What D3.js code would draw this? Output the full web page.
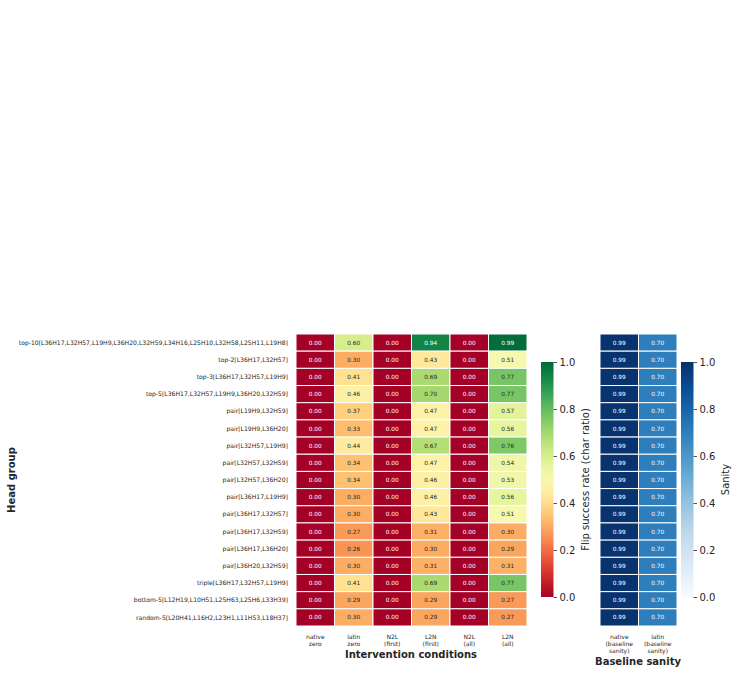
<!DOCTYPE html>
<html>
<head>
<meta charset="utf-8">
<script src="https://cdn.jsdelivr.net/npm/d3@7"></script>
<style>
  body { margin: 0; background: #fff; }
  svg { font-family: "DejaVu Sans", sans-serif; }
</style>
</head>
<body>
<svg id="chart" width="737" height="673"></svg>
<script>

// row labels (head groups)
var groups = [
    'top-10[L36H17,L32H57,L19H9,L36H20,L32H59,L34H16,L25H10,L32H58,L25H11,L19H8]',
    'top-2[L36H17,L32H57]',
    'top-3[L36H17,L32H57,L19H9]',
    'top-5[L36H17,L32H57,L19H9,L36H20,L32H59]',
    'pair[L19H9,L32H59]',
    'pair[L19H9,L36H20]',
    'pair[L32H57,L19H9]',
    'pair[L32H57,L32H59]',
    'pair[L32H57,L36H20]',
    'pair[L36H17,L19H9]',
    'pair[L36H17,L32H57]',
    'pair[L36H17,L32H59]',
    'pair[L36H17,L36H20]',
    'pair[L36H20,L32H59]',
    'triple[L36H17,L32H57,L19H9]',
    'bottom-5[L12H19,L10H51,L25H63,L25H6,L33H39]',
    'random-5[L20H41,L16H2,L23H1,L11H53,L18H37]'
];

var conditions = [ ['native', 'zero'], ['latin', 'zero'], ['N2L', '(first)'], ['L2N', '(first)'], ['N2L', '(all)'], ['L2N', '(all)'] ];

var sanity_cols = [ ['native', '(baseline', 'sanity)'], ['latin', '(baseline', 'sanity)'] ];

// one array per condition column
var native_zero = [0,0,0,0,0,0,0,0,0,0,0,0,0,0,0,0,0];
var latin_zero  = [0.60,0.30,0.41,0.46,0.37,0.33,0.44,0.34,0.34,0.30,0.30,0.27,0.26,0.30,0.41,0.29,0.30];
var n2l_first   = [0,0,0,0,0,0,0,0,0,0,0,0,0,0,0,0,0];
var l2n_first   = [0.94,0.43,0.69,0.70,0.47,0.47,0.67,0.47,0.46,0.46,0.43,0.31,0.30,0.31,0.69,0.29,0.29];
var n2l_all     = [0,0,0,0,0,0,0,0,0,0,0,0,0,0,0,0,0];
var l2n_all     = [0.99,0.51,0.77,0.77,0.57,0.56,0.76,0.54,0.53,0.56,0.51,0.30,0.29,0.31,0.77,0.27,0.27];

var native_sanity = [0.99,0.99,0.99,0.99,0.99,0.99,0.99,0.99,0.99,0.99,0.99,0.99,0.99,0.99,0.99,0.99,0.99];
var latin_sanity  = [0.70,0.70,0.70,0.70,0.70,0.70,0.70,0.70,0.70,0.70,0.70,0.70,0.70,0.70,0.70,0.70,0.70];

var cbar_ticks = [0, 0.2, 0.4, 0.6, 0.8, 1.0];

var flip_cols = [native_zero, latin_zero, n2l_first, l2n_first, n2l_all, l2n_all];
var sanity_vals = [native_sanity, latin_sanity];

var svg = d3.select('#chart');
var ink = '#262626';

var top_y = 334, bottom_y = 626;

var y = d3.scaleBand().domain(d3.range(groups.length)).range([top_y, bottom_y]);
var x1 = d3.scaleBand().domain(d3.range(conditions.length)).range([296, 527]);
var x2 = d3.scaleBand().domain(d3.range(sanity_cols.length)).range([600, 677]);

var flipColor = d3.scaleSequential(d3.interpolateRdYlGn).domain([0, 1]);
var sanityColor = d3.scaleSequential(d3.interpolateBlues).domain([0, 1]);

function textColor(c) {
    // same rule seaborn uses for annotation colour
    var rgb = d3.rgb(c);
    var lin = [rgb.r, rgb.g, rgb.b].map(function(v) {
        v = v / 255;
        return v <= 0.03928 ? v / 12.92 : Math.pow((v + 0.055) / 1.055, 2.4);
    });
    var lum = 0.2126 * lin[0] + 0.7152 * lin[1] + 0.0722 * lin[2];
    return lum > 0.408 ? ink : '#fff';
}

function drawHeat(cols, xs, color) {
    var cells = [];
    cols.forEach(function(col, ci) {
        col.forEach(function(v, ri) { cells.push({ c: ci, r: ri, v: v }); });
    });
    var g = svg.append('g');
    g.selectAll('rect').data(cells).enter().append('rect')
        .attr('x', function(d) { return xs(d.c); })
        .attr('y', function(d) { return y(d.r); })
        .attr('width', xs.bandwidth())
        .attr('height', y.bandwidth())
        .attr('fill', function(d) { return color(d.v); })
        .attr('stroke', '#fff')
        .attr('stroke-width', 1);
    g.selectAll('text').data(cells).enter().append('text')
        .attr('x', function(d) { return xs(d.c) + xs.bandwidth() / 2; })
        .attr('y', function(d) { return y(d.r) + y.bandwidth() / 2; })
        .attr('dy', '0.35em')
        .attr('text-anchor', 'middle')
        .attr('font-size', 5.8)
        .attr('fill', function(d) { return textColor(color(d.v)); })
        .text(function(d) { return d3.format('.2f')(d.v); });
}

drawHeat(flip_cols, x1, flipColor);
drawHeat(sanity_vals, x2, sanityColor);

// row labels
svg.append('g').selectAll('text').data(groups).enter().append('text')
    .attr('x', 288)
    .attr('y', function(d, i) { return y(i) + y.bandwidth() / 2; })
    .attr('dy', '0.35em')
    .attr('text-anchor', 'end')
    .attr('font-size', 6.1)
    .attr('fill', ink)
    .text(function(d) { return d; });

// multi-line column labels
function colLabels(labels, xs) {
    var g = svg.append('g');
    labels.forEach(function(lines, i) {
        var t = g.append('text')
            .attr('text-anchor', 'middle')
            .attr('font-size', 6)
            .attr('fill', ink);
        lines.forEach(function(line, k) {
            t.append('tspan')
                .attr('x', xs(i) + xs.bandwidth() / 2)
                .attr('y', 639 + k * 7)
                .text(line);
        });
    });
}
colLabels(conditions, x1);
colLabels(sanity_cols, x2);

svg.append('text')
    .attr('x', 411).attr('y', 658)
    .attr('text-anchor', 'middle')
    .attr('font-size', 10).attr('font-weight', 'bold')
    .attr('fill', ink)
    .text('Intervention conditions');

svg.append('text')
    .attr('x', 638).attr('y', 665)
    .attr('text-anchor', 'middle')
    .attr('font-size', 10).attr('font-weight', 'bold')
    .attr('fill', ink)
    .text('Baseline sanity');

svg.append('text')
    .attr('transform', 'translate(15,' + (top_y + bottom_y) / 2 + ') rotate(-90)')
    .attr('text-anchor', 'middle')
    .attr('font-size', 10).attr('font-weight', 'bold')
    .attr('fill', ink)
    .text('Head group');

// colour bars
function colorBar(x0, interp, label, labelX, id) {
    var cy = d3.scaleLinear().domain([0, 1]).range([597, 362]);
    var grad = svg.append('defs').append('linearGradient')
        .attr('id', id).attr('x1', 0).attr('y1', 1).attr('x2', 0).attr('y2', 0);
    d3.range(0, 1.0001, 0.05).forEach(function(t) {
        grad.append('stop').attr('offset', t).attr('stop-color', interp(t));
    });
    svg.append('rect')
        .attr('x', x0).attr('y', cy(1))
        .attr('width', 12.5).attr('height', cy(0) - cy(1))
        .attr('fill', 'url(#' + id + ')');
    var axis = d3.axisRight(cy).tickValues(cbar_ticks).tickFormat(d3.format('.1f'))
        .tickSize(3.5).tickPadding(2.5);
    var ga = svg.append('g')
        .attr('transform', 'translate(' + (x0 + 12.5) + ',0)')
        .call(axis);
    ga.select('.domain').remove();
    ga.selectAll('line').attr('stroke', ink).attr('stroke-width', 0.8);
    ga.selectAll('text').attr('font-size', 10).attr('fill', ink)
        .attr('font-family', '"DejaVu Sans", sans-serif');
    svg.append('text')
        .attr('transform', 'translate(' + labelX + ',' + (cy(0) + cy(1)) / 2 + ') rotate(-90)')
        .attr('text-anchor', 'middle')
        .attr('dy', '0.35em')
        .attr('font-size', 10)
        .attr('fill', ink)
        .text(label);
}

colorBar(541, d3.interpolateRdYlGn, 'Flip success rate (char ratio)', 585, 'g_flip');
colorBar(681, d3.interpolateBlues, 'Sanity', 725, 'g_sanity');

</script>
</body>
</html>
